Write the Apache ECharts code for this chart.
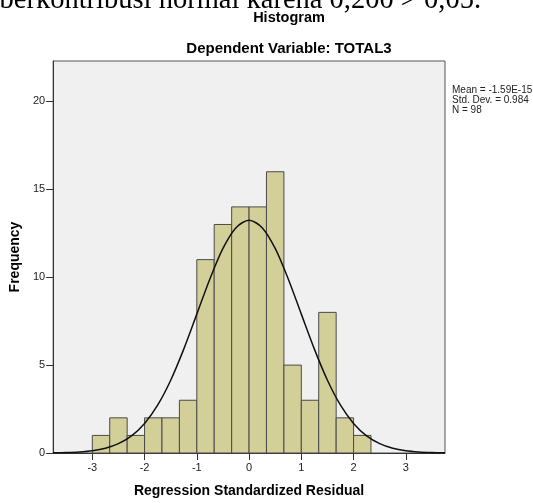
<!DOCTYPE html>
<html>
<head>
<meta charset="utf-8">
<script src="https://cdn.jsdelivr.net/npm/echarts@6/dist/echarts.min.js"></script>
<style>
html,body{margin:0;padding:0;background:#fff;}
#c{width:533px;height:503px;}
</style>
</head>
<body>
<div id="c"></div>
<script>
// Histogram bins (edges) and frequencies
const binEdges = [-3, -2.667, -2.333, -2, -1.667, -1.333, -1, -0.667, -0.333, 0, 0.333, 0.667, 1, 1.333, 1.667, 2, 2.333];
const counts = [1, 2, 1, 2, 2, 3, 11, 13, 14, 14, 16, 5, 3, 8, 2, 1];
// Normal curve
const curveX = [-3.75,-3.5,-3.25,-3,-2.75,-2.5,-2.25,-2,-1.75,-1.5,-1.25,-1,-0.75,-0.5,-0.25,0,0.25,0.5,0.75,1,1.25,1.5,1.75,2,2.25,2.5,2.75,3,3.25,3.5,3.75];
const curveY = [0.009,0.024,0.057,0.127,0.27,0.53,0.97,1.68,2.72,4.14,5.91,7.90,9.90,11.64,12.82,13.24,12.82,11.64,9.90,7.90,5.91,4.14,2.72,1.68,0.97,0.53,0.27,0.127,0.057,0.024,0.009];
const xTicks = [-3, -2, -1, 0, 1, 2, 3];
const yTicks = [0, 5, 10, 15, 20];
const statsLines = ['Mean = -1.59E-15', 'Std. Dev. = 0.984', 'N = 98'];

const barData = counts.map((c, i) => [binEdges[i], binEdges[i + 1], c]);
const curveData = curveX.map((x, i) => [x, curveY[i]]);

const chart = echarts.init(document.getElementById('c'), null, {renderer: 'canvas'});
chart.setOption({
  animation: false,
  backgroundColor: '#ffffff',
  grid: {left: 50, right: 88, top: 61, bottom: 48, show: true, backgroundColor: '#f0f0f0', borderColor: '#555', borderWidth: 1},
  xAxis: {
    type: 'value', min: -3.75, max: 3.75,
    name: 'Regression Standardized Residual', nameLocation: 'middle', nameGap: 31,
    nameTextStyle: {fontFamily: 'Liberation Sans', fontSize: 14, fontWeight: 'bold', color: '#000'},
    axisLine: {show: true, onZero: false, lineStyle: {color: '#333', width: 1}},
    axisTick: {show: true, length: 7, lineStyle: {color: '#333'}, customValues: xTicks},
    axisLabel: {fontFamily: 'Liberation Sans', fontSize: 11, color: '#222', margin: 9, customValues: xTicks},
    splitLine: {show: false}
  },
  yAxis: {
    type: 'value', min: 0, max: 22.3,
    name: 'Frequency', nameLocation: 'middle', nameGap: 25,
    nameTextStyle: {fontFamily: 'Liberation Sans', fontSize: 14, fontWeight: 'bold', color: '#000'},
    axisLine: {show: true, onZero: false, lineStyle: {color: '#333', width: 1}},
    axisTick: {show: true, length: 7, lineStyle: {color: '#333'}, customValues: yTicks},
    axisLabel: {fontFamily: 'Liberation Sans', fontSize: 11, color: '#222', margin: 8, customValues: yTicks},
    splitLine: {show: false}
  },
  graphic: [
    {type: 'text', style: {x: 481, y: 15, text: 'berkontribusi normal karena 0,200 > 0,05.', font: '28.5px "Liberation Serif"', fill: '#000', textAlign: 'right', textVerticalAlign: 'bottom'}, z: 10},
    {type: 'text', style: {x: 289, y: 17.5, text: 'Histogram', font: 'bold 14.5px "Liberation Sans"', fill: '#000', textAlign: 'center', textVerticalAlign: 'middle'}, z: 11},
    {type: 'text', style: {x: 289, y: 48.5, text: 'Dependent Variable: TOTAL3', font: 'bold 15px "Liberation Sans"', fill: '#000', textAlign: 'center', textVerticalAlign: 'middle'}, z: 10},
    {type: 'text', style: {x: 452, y: 85, text: statsLines.join('\n'), font: '10px "Liberation Sans"', lineHeight: 10, fill: '#222', textAlign: 'left', textVerticalAlign: 'top'}, z: 10}
  ],
  series: [
    {
      type: 'custom',
      data: barData,
      encode: {x: [0, 1], y: 2},
      z: 2,
      renderItem: function (params, api) {
        const p0 = api.coord([api.value(0), 0]);
        const p1 = api.coord([api.value(1), api.value(2)]);
        return {
          type: 'rect',
          shape: {x: p0[0], y: p1[1], width: p1[0] - p0[0], height: p0[1] - p1[1]},
          style: {fill: '#d3cf98', stroke: '#4a4a4a', lineWidth: 1}
        };
      }
    },
    {
      type: 'line',
      data: curveData,
      smooth: 0.3,
      showSymbol: false,
      symbol: 'none',
      clip: true,
      z: 3,
      lineStyle: {color: '#111', width: 1.5}
    }
  ]
});
</script>
</body>
</html>
